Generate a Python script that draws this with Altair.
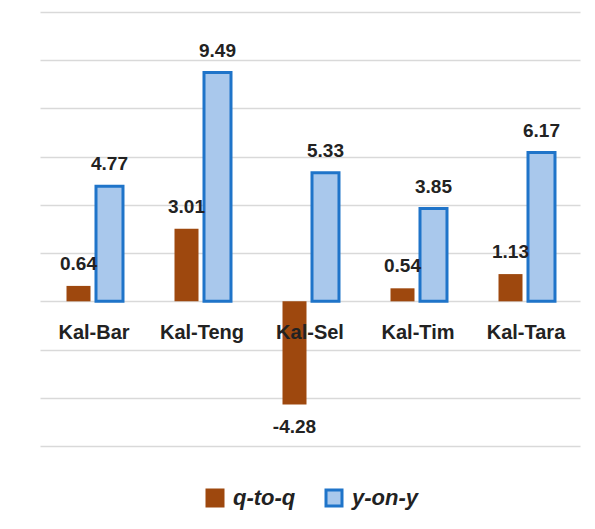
import altair as alt
import pandas as pd

# Quarterly growth by province (percent)
regions = ["Kal-Bar", "Kal-Teng", "Kal-Sel", "Kal-Tim", "Kal-Tara"]
series = ["q-to-q", "y-on-y"]
q_to_q = [0.64, 3.01, -4.28, 0.54, 1.13]
y_on_y = [4.77, 9.49, 5.33, 3.85, 6.17]

rows = []
for i, r in enumerate(regions):
    rows.append({"region": r, "series": "q-to-q", "value": q_to_q[i]})
    rows.append({"region": r, "series": "y-on-y", "value": y_on_y[i]})
df = pd.DataFrame(rows)
cats = pd.DataFrame({"region": regions, "zero": [0] * len(regions)})

BROWN = "#9E480E"
BLUE = "#1F74C9"
BLUE_FILL = "#a9c8ec"
FONT = "Liberation Sans"
TEXT = "#222222"

x_enc = alt.X("region:N", sort=regions, axis=None,
              scale=alt.Scale(paddingInner=0.426, paddingOuter=0.213))
xo_enc = alt.XOffset("series:N", sort=series,
                     scale=alt.Scale(domain=series, paddingInner=0, paddingOuter=0))
y_scale = alt.Scale(domain=[-6, 12], nice=False, zero=False)
y_axis = alt.Axis(values=list(range(-6, 13, 2)), labels=False, ticks=False,
                  domain=False, title=None, gridColor="#d9d9d9", gridWidth=1.3)

legend = alt.Legend(
    title=None, orient="none", direction="horizontal",
    legendX=164, legendY=475, padding=0,
    symbolType="square", symbolSize=256, symbolStrokeWidth=3,
    labelFont=FONT, labelFontSize=22, labelFontWeight="bold",
    labelFontStyle="italic", labelColor=TEXT, labelOffset=7,
    columnPadding=24,
)
fill_enc = alt.Fill("series:N", sort=series,
                    scale=alt.Scale(domain=series, range=[BROWN, BLUE_FILL]),
                    legend=legend)
stroke_enc = alt.Stroke("series:N", sort=series,
                        scale=alt.Scale(domain=series, range=[BROWN, BLUE]),
                        legend=legend)

base = alt.Chart(df).encode(
    x=x_enc, xOffset=xo_enc,
    y=alt.Y("value:Q", scale=y_scale, axis=y_axis),
    fill=fill_enc, stroke=stroke_enc,
)

bars_q = base.transform_filter("datum.series == 'q-to-q'").mark_bar(
    width=24, strokeWidth=0)
bars_y = base.transform_filter("datum.series == 'y-on-y'").mark_bar(
    width=27, strokeWidth=3)

label_expr = "(datum.value < 0 ? '-' : '') + format(abs(datum.value), '.2f')"

pos_labels = alt.Chart(df).transform_filter("datum.value >= 0").transform_calculate(
    label=label_expr
).mark_text(
    font=FONT, fontSize=19, fontWeight="bold", color=TEXT,
    baseline="alphabetic", dy=-16,
).encode(x=x_enc, xOffset=xo_enc, y=alt.Y("value:Q", scale=y_scale),
         text="label:N")

neg_labels = alt.Chart(df).transform_filter("datum.value < 0").transform_calculate(
    label=label_expr
).mark_text(
    font=FONT, fontSize=19, fontWeight="bold", color=TEXT,
    baseline="top", dy=13,
).encode(x=x_enc, xOffset=xo_enc, y=alt.Y("value:Q", scale=y_scale),
         text="label:N")

cat_labels = alt.Chart(cats).mark_text(
    font=FONT, fontSize=20, fontWeight="bold", color=TEXT,
    baseline="alphabetic", dy=38,
).encode(x=x_enc, y=alt.Y("zero:Q", scale=y_scale), text="region:N")

chart = alt.layer(bars_q, bars_y, pos_labels, neg_labels, cat_labels).properties(
    width=540, height=434,
    autosize=alt.AutoSizeParams(type="none"),
    padding={"left": 40, "top": 12, "right": 15, "bottom": 83},
).configure_view(stroke=None)

chart.save("out.html", embed_options={"renderer": "svg", "actions": False})
